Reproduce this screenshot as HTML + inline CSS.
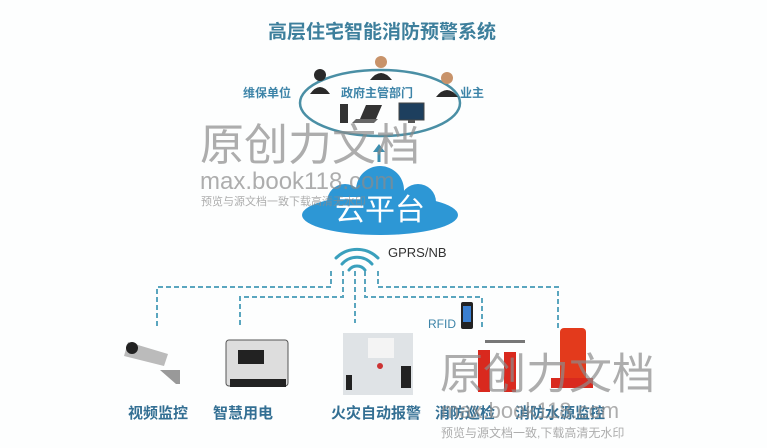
<!DOCTYPE html>
<html><head><meta charset="utf-8"><style>
html,body{margin:0;padding:0;background:#fff;}
svg{display:block;}
</style></head><body>
<svg width="767" height="448" viewBox="0 0 767 448" xmlns="http://www.w3.org/2000/svg" font-family="Liberation Sans, Noto Sans CJK SC, sans-serif">
<rect width="767" height="448" fill="#fdfefe"/>
<text x="382" y="38" text-anchor="middle" font-size="19" font-weight="bold" fill="#3d7f9c">高层住宅智能消防预警系统</text>
<ellipse cx="380" cy="103" rx="80" ry="33" fill="none" stroke="#4a8fa5" stroke-width="2.5"/>
<text x="243" y="97" font-size="12" font-weight="bold" fill="#3d84a8">维保单位</text>
<text x="341" y="97" font-size="12" font-weight="bold" fill="#3d84a8">政府主管部门</text>
<text x="460" y="97" font-size="12" font-weight="bold" fill="#3d84a8">业主</text>
<g fill="#2a2a2a"><circle cx="320" cy="75" r="6"/><path d="M310 94 q10-14 20 0z"/>
<circle cx="381" cy="62" r="6" fill="#c8936a"/><path d="M370 80 q11-14 22 0z"/>
<circle cx="447" cy="78" r="6" fill="#c8936a"/><path d="M436 97 q11-14 22 0z"/></g>
<rect x="340" y="104" width="8" height="19" fill="#333"/>
<path d="M366 105 h16 l-6 14 h-16z" fill="#333"/><path d="M356 119 h22 l-4 4 h-22z" fill="#666"/>
<rect x="399" y="103" width="25" height="17" fill="#1d3f5e" stroke="#444"/><rect x="408" y="120" width="7" height="3" fill="#555"/>
<line x1="379" y1="162" x2="379" y2="150" stroke="#3d8fb0" stroke-width="3"/>
<path d="M373 152 l6-8 6 8z" fill="#3d8fb0"/>
<g fill="#2d97d5"><ellipse cx="380" cy="215" rx="78" ry="20"/><circle cx="380" cy="190" r="24"/><circle cx="345" cy="202" r="18"/><circle cx="418" cy="202" r="18"/></g>
<text x="380" y="220" text-anchor="middle" font-size="30" fill="#fff">云平台</text>
<g fill="none" stroke="#3aa0bd" stroke-width="3" stroke-linecap="round">
<path d="M336 258 a30 30 0 0 1 42 0"/><path d="M342 264 a20 20 0 0 1 30 0"/><path d="M349 270 a10 10 0 0 1 16 0"/></g>
<text x="388" y="257" font-size="13" fill="#333">GPRS/NB</text>
<g fill="none" stroke="#5aa6bf" stroke-width="2" stroke-dasharray="5,3">
<path d="M331 271 V287 H157 V328"/><path d="M343 271 V297 H240 V328"/><path d="M355 271 V323"/>
<path d="M365 271 V297 H482 V328"/><path d="M378 271 V287 H558 V328"/></g>
<text x="428" y="328" font-size="12" fill="#3d84a8">RFID</text>
<rect x="461" y="302" width="12" height="27" rx="2" fill="#222"/><rect x="463" y="306" width="8" height="16" fill="#3a7fd0"/>
<g>
<path d="M128 342 l40 12 -4 12 -40-10z" fill="#bbb"/><circle cx="132" cy="348" r="6" fill="#222"/><path d="M160 370 h20 v14 h-4z" fill="#999"/>
<rect x="226" y="340" width="62" height="46" rx="3" fill="#ddd" stroke="#555"/><rect x="238" y="350" width="26" height="14" fill="#222"/><rect x="230" y="379" width="56" height="8" fill="#222"/>
<rect x="343" y="333" width="70" height="62" fill="#dfe3e6"/><rect x="368" y="338" width="26" height="20" fill="#f4f4f4"/><circle cx="380" cy="366" r="3" fill="#c33"/><rect x="346" y="375" width="6" height="15" fill="#222"/><rect x="401" y="366" width="10" height="22" fill="#222"/>
<rect x="478" y="350" width="12" height="42" fill="#d9291e"/><rect x="504" y="352" width="12" height="40" fill="#d9291e"/><rect x="485" y="340" width="40" height="3" fill="#777"/>
<rect x="560" y="328" width="26" height="60" rx="4" fill="#e33a1c"/><rect x="551" y="378" width="42" height="10" fill="#d9291e"/>
</g>
<g font-size="15" font-weight="bold" fill="#336f93">
<text x="128" y="418">视频监控</text><text x="213" y="418">智慧用电</text><text x="331" y="418">火灾自动报警</text><text x="435" y="418">消防巡检</text><text x="515" y="418">消防水源监控</text></g>
<g fill="#8a8a8a" fill-opacity="0.7">
<text x="200" y="160" font-size="44">原创力文档</text>
<text x="200" y="189" font-size="24">max.book118.com</text>
<text x="201" y="205" font-size="11">预览与源文档一致下载高清无水印</text>
<text x="440" y="389" font-size="43">原创力文档</text>
<text x="441" y="418" font-size="22">max.book118.com</text>
<text x="441" y="437" font-size="12">预览与源文档一致,下载高清无水印</text>
</g>
</svg>
</body></html>
